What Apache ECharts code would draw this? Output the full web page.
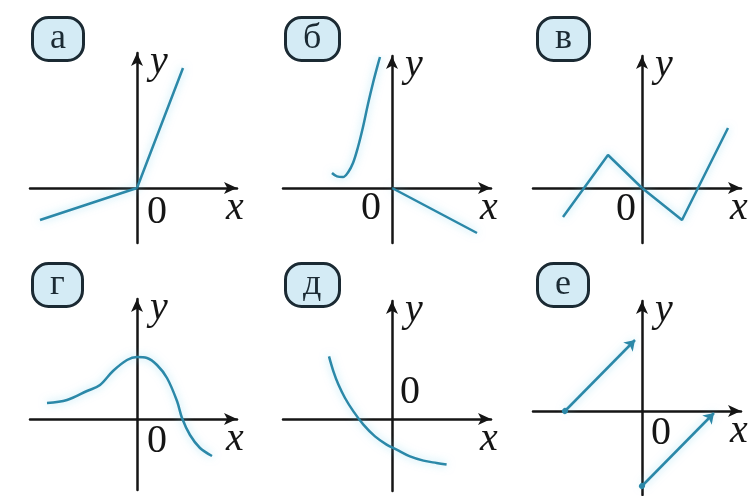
<!DOCTYPE html>
<html>
<head>
<meta charset="utf-8">
<script src="https://cdn.jsdelivr.net/npm/echarts@6/dist/echarts.min.js"></script>
<style>
  html, body { margin: 0; padding: 0; background: #fff; }
  #chart { width: 750px; height: 496px; }
</style>
</head>
<body>
<div id="chart"></div>
<script>
// graph data, units = 20 px of the picture
const labels = ['а', 'б', 'в', 'г', 'д', 'е']
const curveA = [[-4.85, -1.6], [0, 0], [2.3, 6.0]]
const curveB1 = [[-3.0, 0.75], [-2.75, 0.58], [-2.45, 0.55], [-2.2, 0.78], [-1.95, 1.25], [-1.7, 2.05], [-1.45, 3.05], [-1.2, 4.2], [-0.95, 5.25], [-0.7, 6.2], [-0.6, 6.55]]
const curveB2 = [[0, 0], [4.25, -2.25]]
const curveV = [[-3.95, -1.45], [-1.7, 1.65], [0, 0], [2.0, -1.6], [4.3, 3.0]]
const curveG = [[-4.5, 0.8], [-3.5, 0.95], [-2.5, 1.4], [-1.85, 1.7], [-1.2, 2.4], [-0.5, 2.95], [0, 3.1], [0.5, 3.05], [1.0, 2.7], [1.5, 2.05], [2.0, 0.9], [2.25, 0.05], [2.65, -0.8], [3.15, -1.45], [3.75, -1.85]]
const curveD = [[-3.15, 3.13], [-2.93, 2.38], [-2.68, 1.72], [-2.35, 1.05], [-1.93, 0.38], [-1.43, -0.28], [-0.85, -0.87], [-0.27, -1.28], [0.23, -1.53], [0.9, -1.87], [1.57, -2.08], [2.23, -2.2], [2.73, -2.28]]
const rayE1 = [[-3.85, 0], [-0.35, 3.55]]
const rayE2 = [[0, -3.75], [3.6, -0.1]]

// layout of the six little graphs (origin in px, axis ranges in units)
const U = 20
const panels = [
  { ox: 137, oy: 188, x: [-5.35, 5.0], y: [-2.75, 6.75], zero: [20, 24], box: [32, 20] },
  { ox: 392, oy: 188, x: [-5.45, 4.95], y: [-2.75, 6.6], zero: [-21, 20], box: [285, 20] },
  { ox: 642, oy: 188, x: [-5.45, 4.95], y: [-2.75, 6.6], zero: [-16, 21], box: [537, 20] },
  { ox: 137, oy: 419, x: [-5.35, 5.0], y: [-3.55, 6.0], zero: [20, 22], box: [32, 266] },
  { ox: 392, oy: 419, x: [-5.45, 4.95], y: [-3.6, 5.9], zero: [18, -27], box: [285, 266] },
  { ox: 642, oy: 411, x: [-5.45, 4.95], y: [-4.2, 5.5], zero: [19, 22], box: [537, 266] }
]

const ink = '#151515'
const teal = '#2b88a8'
const serif = 'Times New Roman'

const curveStyle = {
  color: teal,
  width: 2.5,
  opacity: 1,
  shadowColor: 'rgba(110, 205, 235, 0.6)',
  shadowBlur: 8
}

function lineSeries(i, data, smooth) {
  return {
    type: 'line',
    xAxisIndex: i,
    yAxisIndex: i,
    data: data,
    smooth: smooth ? 0.35 : false,
    symbol: 'none',
    lineStyle: curveStyle,
    z: 3
  }
}

const chart = echarts.init(document.getElementById('chart'))

const grid = panels.map(p => ({
  left: p.ox + p.x[0] * U,
  top: p.oy - p.y[1] * U,
  width: (p.x[1] - p.x[0]) * U,
  height: (p.y[1] - p.y[0]) * U,
  containLabel: false
}))

const axisLine = {
  onZero: true,
  symbol: ['none', 'arrow'],
  symbolSize: [9, 13],
  lineStyle: { color: ink, width: 2.5 }
}

const xAxis = panels.map((p, i) => ({
  gridIndex: i,
  type: 'value',
  min: p.x[0],
  max: p.x[1],
  name: 'x',
  nameLocation: 'end',
  nameGap: -2,
  nameTextStyle: {
    fontFamily: serif, fontStyle: 'italic', fontWeight: 'normal', fontSize: 40, color: ink,
    align: 'center', verticalAlign: 'top'
  },
  axisLine: axisLine,
  axisTick: { show: false },
  axisLabel: { show: false },
  splitLine: { show: false }
}))

const yAxis = panels.map((p, i) => ({
  gridIndex: i,
  type: 'value',
  min: p.y[0],
  max: p.y[1],
  name: 'y',
  nameLocation: 'end',
  nameGap: -9,
  nameTextStyle: {
    fontFamily: serif, fontStyle: 'italic', fontWeight: 'normal', fontSize: 40, color: ink,
    align: 'left', verticalAlign: 'middle', padding: [0, 0, 0, 13]
  },
  axisLine: axisLine,
  axisTick: { show: false },
  axisLabel: { show: false },
  splitLine: { show: false }
}))

const title = panels.map((p, i) => ({
  text: labels[i],
  left: p.box[0],
  top: p.box[1],
  padding: [4, 18, 4, 18],
  backgroundColor: '#d4ebf5',
  borderColor: '#1b2a33',
  borderWidth: 3,
  borderRadius: 16,
  textStyle: { fontFamily: serif, fontSize: 36, fontWeight: 'normal', fontStyle: 'normal', color: '#1b2a33', lineHeight: 30 }
}))

const series = [
  lineSeries(0, curveA, false),
  lineSeries(1, curveB1, true),
  lineSeries(1, curveB2, false),
  lineSeries(2, curveV, false),
  lineSeries(3, curveG, true),
  lineSeries(4, curveD, true),
  {
    type: 'lines',
    coordinateSystem: 'cartesian2d',
    xAxisIndex: 5,
    yAxisIndex: 5,
    symbol: ['circle', 'arrow'],
    symbolSize: [6, 10],
    lineStyle: curveStyle,
    data: [{ coords: rayE1 }, { coords: rayE2 }],
    z: 3
  }
]

// the "0" at each origin
panels.forEach((p, i) => {
  series.push({
    type: 'scatter',
    xAxisIndex: i,
    yAxisIndex: i,
    data: [[0, 0]],
    symbolSize: 1,
    itemStyle: { color: ink, opacity: 1 },
    label: {
      show: true,
      formatter: '0',
      position: 'inside',
      offset: p.zero,
      fontFamily: serif,
      fontWeight: 'normal',
      fontStyle: 'normal',
      fontSize: 40,
      color: ink
    },
    silent: true,
    z: 4
  })
})

chart.setOption({
  animation: false,
  backgroundColor: '#fff',
  title: title,
  grid: grid,
  xAxis: xAxis,
  yAxis: yAxis,
  series: series
})
</script>
</body>
</html>
